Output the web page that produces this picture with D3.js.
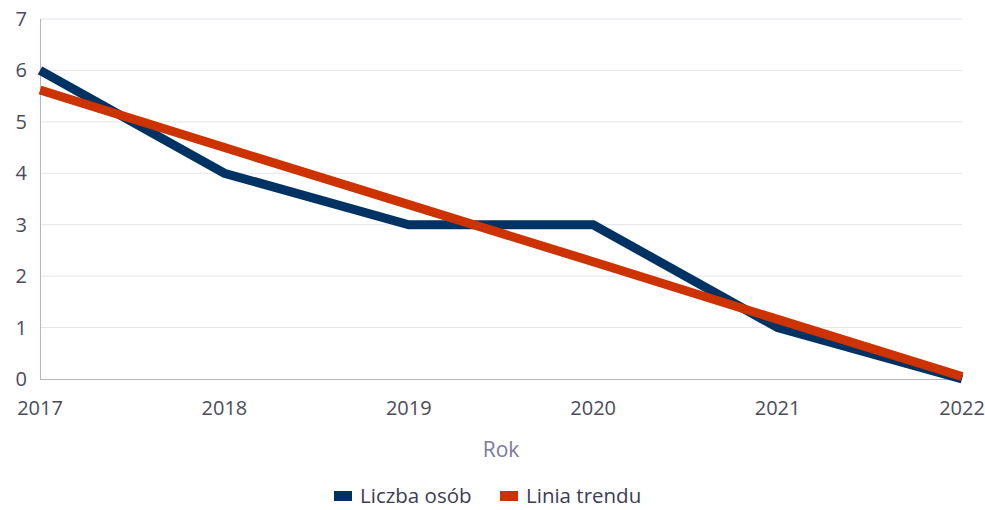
<!DOCTYPE html>
<html><head><meta charset="utf-8">
<script src="https://cdn.jsdelivr.net/npm/d3@7"></script>
<style>body{margin:0;background:#fff;font-family:"Open Sans","Noto Sans",sans-serif;}</style>
</head><body><svg id="c" width="985" height="510"></svg>
<script>
const years = ["2017","2018","2019","2020","2021","2022"];
const liczbaOsob = [6,4,3,3,1,0];
const liniaTrendu = [5.62,4.50,3.39,2.28,1.16,0.05];
const yTicks = [0,1,2,3,4,5,6,7];
const seriesNames = ["Liczba osób","Linia trendu"];
const seriesColors = ["#003263","#cc3300"];

const svg = d3.select("#c");
const L=40,R=962,T=19,B=379;
const x = d3.scalePoint().domain(years).range([L,R]);
const y = d3.scaleLinear().domain([0,7]).range([B,T]);

svg.append("g").selectAll("line").data(yTicks.filter(d=>d>0)).join("line")
  .attr("x1",L).attr("x2",R).attr("y1",d=>y(d)).attr("y2",d=>y(d))
  .attr("stroke","#e4e4ec").attr("stroke-width",1);

svg.append("line").attr("x1",L+0.5).attr("x2",L+0.5).attr("y1",T).attr("y2",B).attr("stroke","#b4b4cc");
svg.append("line").attr("x1",L).attr("x2",R).attr("y1",B+0.5).attr("y2",B+0.5).attr("stroke","#b4b4cc");

svg.append("g").selectAll("text").data(yTicks).join("text")
  .attr("x",27).attr("y",d=>y(d)).attr("dy","0.35em").attr("text-anchor","end")
  .attr("font-size",20).attr("fill","#4b4b5e").text(d=>d);

svg.append("g").selectAll("text").data(years).join("text")
  .attr("x",d=>x(d)).attr("y",408).attr("dy","0.35em").attr("text-anchor","middle")
  .attr("font-size",20).attr("fill","#4b4b5e").text(d=>d);

svg.append("text").attr("x",(L+R)/2).attr("y",450).attr("dy","0.35em").attr("text-anchor","middle")
  .attr("font-size",21).attr("fill","#7a7a9c").text("Rok");

const line = d3.line().x((d,i)=>x(years[i])).y(d=>y(d));
[liczbaOsob, liniaTrendu].forEach((s,k)=>{
  svg.append("path").attr("d",line(s)).attr("fill","none")
    .attr("stroke",seriesColors[k]).attr("stroke-width",9).attr("stroke-linejoin","miter");
});

const lg = svg.append("g");
const lx=[334,500];
seriesNames.forEach((n,k)=>{
  lg.append("rect").attr("x",lx[k]).attr("y",491).attr("width",18).attr("height",10).attr("fill",seriesColors[k]);
  lg.append("text").attr("x",lx[k]+26).attr("y",496).attr("dy","0.35em").attr("font-size",20.5).attr("fill","#3c3c55").text(n);
});
</script></body></html>
